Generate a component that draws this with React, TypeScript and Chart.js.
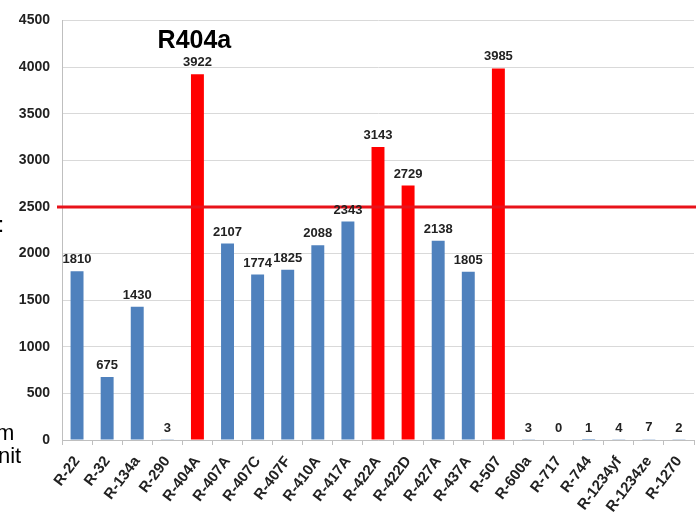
import React, { useEffect, useRef } from "react";
import { Chart, registerables } from "chart.js";

Chart.register(...registerables);

const categories = [
  "R-22", "R-32", "R-134a", "R-290", "R-404A", "R-407A", "R-407C", "R-407F",
  "R-410A", "R-417A", "R-422A", "R-422D", "R-427A", "R-437A", "R-507",
  "R-600a", "R-717", "R-744", "R-1234yf", "R-1234ze", "R-1270",
];
const gwpValues = [
  1810, 675, 1430, 3, 3922, 2107, 1774, 1825, 2088, 2343, 3143, 2729, 2138,
  1805, 3985, 3, 0, 1, 4, 7, 2,
];
const highlighted = ["R-404A", "R-422A", "R-422D", "R-507"];
const thresholdValue = 2500;
const yMin = 0;
const yMax = 4500;
const yStep = 500;
const calloutCategory = "R-404A";
const calloutText = "R404a";
const sideFragments = [
  { text: ":", x: -2, y: 232 },
  { text: "m", x: -4, y: 440 },
  { text: "nit", x: -2, y: 463 },
];

const FONT = "'Liberation Sans', Arial, Helvetica, sans-serif";
const BLUE = "#4f81bd";
const RED = "#ff0000";

export default function App() {
  const canvasRef = useRef<HTMLCanvasElement | null>(null);

  useEffect(() => {
    if (!canvasRef.current) return;

    const overlay = {
      id: "overlay",
      afterDatasetsDraw(chart: any) {
        const { ctx, chartArea, scales } = chart;
        const x = scales.x;
        const y = scales.y;
        const meta = chart.getDatasetMeta(0);
        ctx.save();
        const ty = y.getPixelForValue(thresholdValue);
        ctx.strokeStyle = "#e8121a";
        ctx.lineWidth = 3;
        ctx.beginPath();
        ctx.moveTo(chartArea.left - 5, ty);
        ctx.lineTo(chart.width, ty);
        ctx.stroke();
        ctx.font = `bold 13px ${FONT}`;
        ctx.fillStyle = "#222222";
        ctx.textAlign = "center";
        ctx.textBaseline = "alphabetic";
        meta.data.forEach((bar: any, i: number) => {
          ctx.fillText(String(gwpValues[i]), bar.x, bar.y - 8);
        });
        const cx = x.getPixelForValue(categories.indexOf(calloutCategory));
        ctx.font = `bold 25px ${FONT}`;
        ctx.fillStyle = "#000000";
        ctx.fillText(calloutText, cx - 3, 48);
        ctx.font = `22px ${FONT}`;
        ctx.textAlign = "left";
        sideFragments.forEach((f) => ctx.fillText(f.text, f.x, f.y));
        ctx.restore();
      },
    };

    const chart = new Chart(canvasRef.current, {
      type: "bar",
      data: {
        labels: categories,
        datasets: [
          {
            data: gwpValues,
            backgroundColor: categories.map((c) =>
              highlighted.includes(c) ? RED : BLUE
            ),
            categoryPercentage: 1,
            barPercentage: 0.43,
          },
        ],
      },
      options: {
        responsive: false,
        animation: false,
        layout: { padding: { top: 18, right: 2, left: 0, bottom: 0 } },
        plugins: {
          legend: { display: false },
          tooltip: { enabled: false },
          title: { display: false },
        },
        scales: {
          x: {
            afterFit(scale: any) {
              scale.height = 92;
              scale.paddingLeft = 0;
              scale.paddingRight = 0;
            },
            grid: {
              display: true,
              drawOnChartArea: false,
              drawTicks: true,
              tickLength: 5,
              color: "#bfbfbf",
            },
            border: { display: true, color: "#bfbfbf" },
            ticks: {
              autoSkip: false,
              minRotation: 53,
              maxRotation: 53,
              padding: 8,
              color: "#222222",
              font: { family: FONT, size: 15, weight: "bold" },
            },
          },
          y: {
            min: yMin,
            max: yMax,
            afterFit(scale: any) {
              scale.width = 62;
            },
            ticks: {
              stepSize: yStep,
              padding: 12,
              color: "#222222",
              font: { family: FONT, size: 14, weight: "bold" },
              callback: (v: any) => String(v),
            },
            grid: {
              color: "#d9d9d9",
              drawTicks: false,
            },
            border: { display: true, color: "#bfbfbf" },
          },
        },
      },
      plugins: [overlay],
    } as any);

    return () => chart.destroy();
  }, []);

  return (
    <div
      style={{
        position: "absolute",
        left: 0,
        top: 0,
        width: 696,
        height: 532,
        background: "#ffffff",
      }}
    >
      <canvas ref={canvasRef} width={696} height={532} />
    </div>
  );
}
